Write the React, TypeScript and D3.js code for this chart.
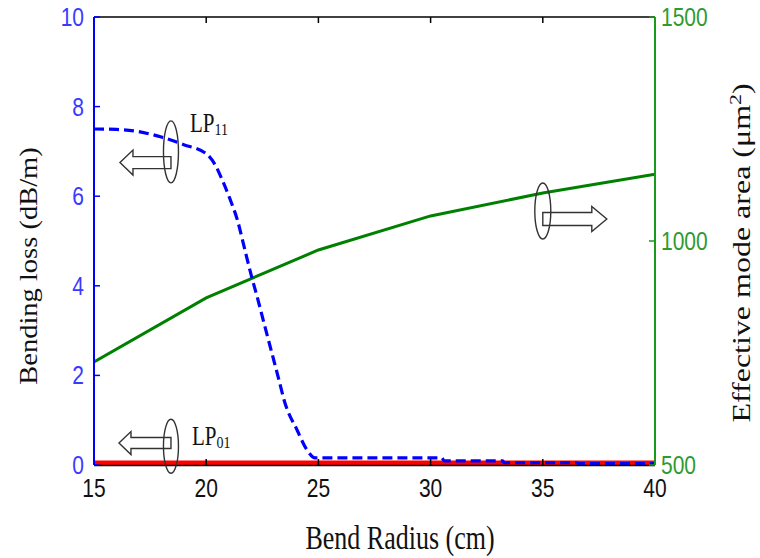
import React from "react";
import * as d3 from "d3";

// Bend radius (cm) samples for each curve
const lp11Radius = [15, 16, 17, 18, 19, 20, 20.4, 20.75, 21.05, 21.4, 21.7, 22.0, 22.3, 22.6, 22.9, 23.2, 23.5, 24.05, 24.5, 24.85, 30.5, 30.6, 33.2, 33.3, 36.5, 36.6, 40];
// LP11 bending loss (dB/m)
const lp11Loss = [7.5, 7.49, 7.44, 7.32, 7.15, 6.95, 6.7, 6.32, 5.95, 5.45, 4.85, 4.25, 3.7, 3.12, 2.55, 1.98, 1.4, 0.78, 0.33, 0.16, 0.16, 0.09, 0.09, 0.05, 0.05, 0.03, 0.03];

const lp01Radius = [15, 20, 25, 30, 35, 40];
// LP01 bending loss (dB/m)
const lp01Loss = [0.05, 0.05, 0.05, 0.05, 0.05, 0.05];

const areaRadius = [15, 20, 25, 30, 35, 40];
// Effective mode area (µm²)
const areaValues = [730, 873, 980, 1056, 1107, 1149];

const xTicks = [15, 20, 25, 30, 35, 40];
const lossTicks = [0, 2, 4, 6, 8, 10];
const areaTicks = [500, 1000, 1500];

const W = 760;
const H = 558;
const M = { left: 94, right: 655, top: 17, bottom: 465 };

const x = d3.scaleLinear().domain([15, 40]).range([M.left, M.right]);
const yL = d3.scaleLinear().domain([0, 10]).range([M.bottom, M.top]);
const yR = d3.scaleLinear().domain([500, 1500]).range([M.bottom, M.top]);

const SERIF = "'Liberation Serif', 'Times New Roman', serif";
const SANS = "'Liberation Sans', Arial, sans-serif";

function Txt({ x: tx, y: ty, rot = 0, sx = 1, sy = 1.3, size, fill = "#111", family = SERIF, anchor = "start", children }: any) {
  return (
    <text
      transform={`translate(${tx},${ty}) rotate(${rot}) scale(${sx},${sy})`}
      fontSize={size}
      fontFamily={family}
      fill={fill}
      textAnchor={anchor}
    >
      {children}
    </text>
  );
}

// Outline arrow leaving an ellipse that circles the curve it refers to
function Pointer({ cx, cy, ay, rx, ry, dir, shaftLen, headLen, shaftH, headH }: any) {
  const x0 = cx;
  const x1 = cx + dir * shaftLen;
  const x2 = x1 + dir * headLen;
  const pts = [
    [x0, ay - shaftH / 2],
    [x1, ay - shaftH / 2],
    [x1, ay - headH / 2],
    [x2, ay],
    [x1, ay + headH / 2],
    [x1, ay + shaftH / 2],
    [x0, ay + shaftH / 2],
  ];
  return (
    <g>
      <polygon points={pts.map((p) => p.join(",")).join(" ")} fill="#fff" stroke="#333" strokeWidth={1.4} />
      <ellipse cx={cx} cy={cy} rx={rx} ry={ry} fill="none" stroke="#333" strokeWidth={1.4} />
    </g>
  );
}

export default function App() {
  const lossLine = d3
    .line<number>()
    .x((_, i) => x(lp11Radius[i]))
    .y((d) => yL(d))
    .curve(d3.curveMonotoneX);
  const lp01Line = d3
    .line<number>()
    .x((_, i) => x(lp01Radius[i]))
    .y((d) => yL(d));
  const areaLine = d3
    .line<number>()
    .x((_, i) => x(areaRadius[i]))
    .y((d) => yR(d));

  const blueTick = "#3a3aff";
  const greenTick = "#2f9a2f";

  return (
    <svg width={W} height={H} style={{ position: "absolute", left: 0, top: 0, background: "#fff" }}>
      <defs>
        <clipPath id="plot">
          <rect x={M.left} y={M.top - 2} width={M.right - M.left} height={M.bottom - M.top + 2} />
        </clipPath>
      </defs>
      <rect width={W} height={H} fill="#fff" />

      {/* curves */}
      <g clipPath="url(#plot)" fill="none">
        <path d={lp01Line(lp01Loss) || ""} stroke="#ff0000" strokeWidth={4.5} />
        <path d={areaLine(areaValues) || ""} stroke="#008000" strokeWidth={3} />
        <path d={lossLine(lp11Loss) || ""} stroke="#0000ff" strokeWidth={3.2} strokeDasharray="10,5" />
      </g>

      {/* frame */}
      <line x1={M.left} x2={M.right} y1={M.top} y2={M.top} stroke="#000" strokeWidth={1.5} />
      <line x1={M.left} x2={M.right} y1={M.bottom + 0.5} y2={M.bottom + 0.5} stroke="#000" strokeWidth={1.5} />
      <line x1={M.left} x2={M.left} y1={M.top} y2={M.bottom} stroke="#0000ff" strokeWidth={2} />
      <line x1={M.right} x2={M.right} y1={M.top} y2={M.bottom} stroke="#1a9a1a" strokeWidth={2} />

      {/* x ticks */}
      {xTicks.map((t) => (
        <g key={`x${t}`}>
          {t > 15 && t < 40 && (
            <>
              <line x1={x(t)} x2={x(t)} y1={M.bottom} y2={M.bottom - 6} stroke="#000" strokeWidth={1.5} />
              <line x1={x(t)} x2={x(t)} y1={M.top} y2={M.top + 6} stroke="#000" strokeWidth={1.5} />
            </>
          )}
          <Txt x={x(t)} y={497} size={21} sy={1.25} family={SANS} anchor="middle">
            {t}
          </Txt>
        </g>
      ))}

      {/* left axis */}
      {lossTicks.map((t) => (
        <g key={`l${t}`}>
          <line x1={M.left} x2={M.left + 6} y1={yL(t)} y2={yL(t)} stroke="#0000ff" strokeWidth={1.5} />
          <Txt x={84} y={yL(t) + 9} size={21} sy={1.25} family={SANS} anchor="end" fill={blueTick}>
            {t}
          </Txt>
        </g>
      ))}

      {/* right axis */}
      {areaTicks.map((t) => (
        <g key={`r${t}`}>
          <line x1={M.right} x2={M.right - 6} y1={yR(t)} y2={yR(t)} stroke="#1a9a1a" strokeWidth={1.5} />
          <Txt x={661} y={yR(t) + 9} size={21} sy={1.25} family={SANS} anchor="start" fill={greenTick}>
            {t}
          </Txt>
        </g>
      ))}

      {/* axis titles */}
      <Txt x={400} y={549} size={26} anchor="middle">
        Bend Radius (cm)
      </Txt>
      <Txt x={37} y={266} rot={-90} sx={1.14} sy={1} size={25} anchor="middle">
        Bending loss (dB/m)
      </Txt>
      <text transform="translate(750,253) rotate(-90) scale(1.28,1)" fontSize={25} fontFamily={SERIF} fill="#111" textAnchor="middle">
        Effective mode area (μm<tspan dy={-9} fontSize={17}>2</tspan>
        <tspan dy={9}>)</tspan>
      </text>

      {/* mode annotations */}
      <Pointer cx={x(18.43)} cy={yL(6.99)} ay={yL(6.75)} rx={7.5} ry={31} dir={-1} shaftLen={38} headLen={13} shaftH={12} headH={25} />
      <Txt x={190} y={132} size={21} sy={1.25}>
        LP<tspan fontSize={14} dy={2}>11</tspan>
      </Txt>
      <Pointer cx={x(18.43)} cy={yL(0.42)} ay={yL(0.49)} rx={7.5} ry={27} dir={-1} shaftLen={40} headLen={12} shaftH={11} headH={23} />
      <Txt x={192} y={445} size={21} sy={1.25}>
        LP<tspan fontSize={14} dy={2}>01</tspan>
      </Txt>
      <Pointer cx={x(35.0)} cy={yR(1067)} ay={yR(1049)} rx={8} ry={28} dir={1} shaftLen={49} headLen={15} shaftH={13} headH={25} />
    </svg>
  );
}
